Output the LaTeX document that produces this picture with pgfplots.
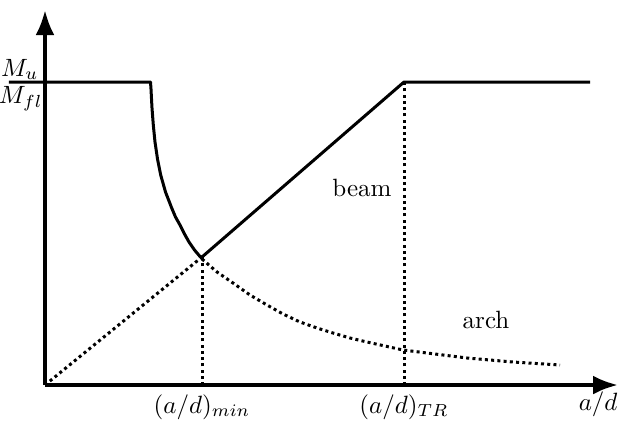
\documentclass[border=0pt]{standalone}
\usepackage{pgfplots}
\pgfplotsset{compat=1.18}
\usetikzlibrary{arrows.meta}

\begin{document}
\begin{tikzpicture}
\begin{axis}[
  x=0.4pt, y=0.4pt,
  xmin=0, xmax=573, ymin=0, ymax=375,
  axis lines=left,
  axis line style={line width=1.6pt},
  x axis line style={-{Latex[length=10pt,width=7.6pt]}},
  y axis line style={-{Latex[length=10pt,width=7.6pt]}},
  xtick=\empty, ytick=\empty,
  clip=false,
  every axis plot/.append style={line width=1.2pt, black},
]
% capacity envelope: plateau, transition drop, beam branch, plateau
\addplot[line join=round] coordinates {
  (-36,303) (105.5,303) (106,296) (106.3,290) (107,277) (108.3,260) (110,243)
  (112.5,226) (115.7,210) (120.5,193) (126.7,177) (130.5,168) (135,160)
  (139.5,151) (144,143) (149.5,135) (155,128.5) (157,128)
  (359,303) (545,303)
};
% arch action branch
\addplot[dash pattern=on 1.2pt off 1.3pt] coordinates {
  (157,126) (172,113) (188,102) (205,90) (222,80) (238,71) (255,63)
  (272,57) (288,52) (305,47) (322,43) (340,39) (358,35) (390,31)
  (422,27) (468,23) (515,20)
};
% rising dotted line from the origin
\addplot[dash pattern=on 1.2pt off 1.3pt] coordinates {(0,0) (157,128)};
% verticals at (a/d)_min and (a/d)_TR
\addplot[dash pattern=on 1.2pt off 1.3pt] coordinates {(157,0) (157,128)};
\addplot[dash pattern=on 1.2pt off 1.3pt] coordinates {(359,0) (359,303)};

\node at (axis cs:317,197) {beam};
\node at (axis cs:441,65) {arch};
\node[anchor=base, inner sep=0pt] at (axis cs:157,-28) {$(a/d)_{min}$};
\node[anchor=base, inner sep=0pt] at (axis cs:359,-28) {$(a/d)_{TR}$};
\node[anchor=base east, inner sep=0pt] at (axis cs:573,-25) {$a/d$};
\node[anchor=base east, inner sep=0pt] at (axis cs:-6,309) {$M_u$};
\node[anchor=north east, inner sep=0pt] at (axis cs:-2,299) {$M_{fl}$};

\coordinate (bbsw) at (axis cs:-45,-36);
\coordinate (bbne) at (axis cs:585,385);
\end{axis}
\pgfresetboundingbox
\path (bbsw) rectangle (bbne);
\end{tikzpicture}
\end{document}
